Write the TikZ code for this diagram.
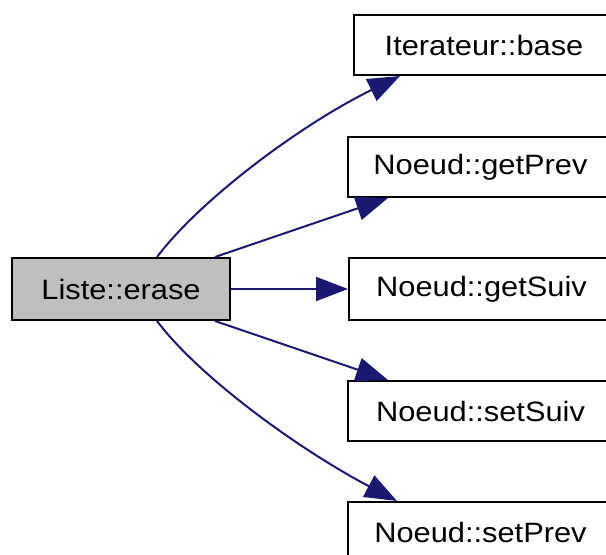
\documentclass[tikz,border=0pt]{standalone}
\usepackage{fontspec}
\setmainfont{Liberation Sans}[FakeStretch=1.1]
\usetikzlibrary{arrows.meta}
\definecolor{edgeblue}{HTML}{191970}
\definecolor{boxgray}{HTML}{BFBFBF}
\begin{document}
\begin{tikzpicture}[x=1pt,y=-1pt,
  fn/.style={draw=black,line width=2pt,fill=white,rectangle,inner sep=0pt,
    font=\fontsize{28}{32}\selectfont,minimum width=265pt,minimum height=60pt,anchor=west},
  cur/.style={fn,fill=boxgray,minimum width=218pt,minimum height=62pt,anchor=center},
  edge/.style={draw=edgeblue,line width=2pt,-{Triangle[length=32pt,width=24pt]}}]
\useasboundingbox (0,0) rectangle (606,555);
\clip (0,0) rectangle (606,555);
\node[cur] (erase) at (121,289) {Liste::erase};
\node[fn,minimum width=260pt] (base) at (353,45) {Iterateur::base};
\node[fn] (getPrev) at (347,167) {Noeud::getPrev};
\node[fn,minimum height=62pt] (getSuiv) at (348,289) {Noeud::getSuiv};
\node[fn] (setSuiv) at (347,411) {Noeud::setSuiv};
\node[fn] (setPrev) at (347,532) {Noeud::setPrev};
\draw[edge] ([xshift=36pt]erase.north) .. controls (200,200) and (300,125) .. ([xshift=47pt]base.south west);
\draw[edge] ([xshift=94pt]erase.north) -- ([xshift=41pt]getPrev.south west);
\draw[edge] (erase.east) -- (getSuiv.west);
\draw[edge] ([xshift=94pt]erase.south) -- ([xshift=41pt]setSuiv.north west);
\draw[edge] ([xshift=36pt]erase.south) .. controls (200,378) and (300,450) .. ([xshift=50pt]setPrev.north west);
\end{tikzpicture}
\end{document}
